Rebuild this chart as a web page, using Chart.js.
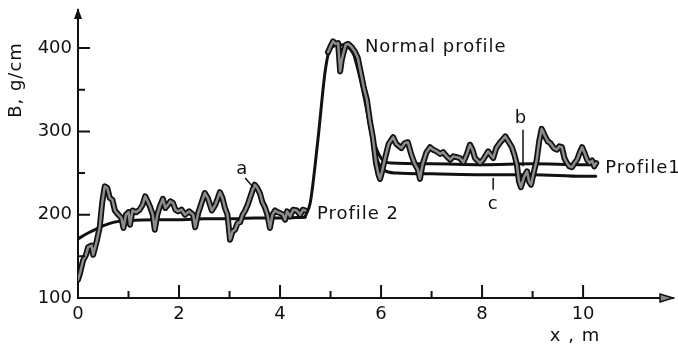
<!DOCTYPE html>
<html>
<head>
<meta charset="utf-8">
<script src="https://cdn.jsdelivr.net/npm/chart.js@4.4.1/dist/chart.umd.min.js"></script>
<style>
html, body { margin: 0; padding: 0; background: #fff; }
#wrap { width: 678px; height: 349px; }
</style>
</head>
<body>
<div id="wrap"><canvas id="chartProfile"></canvas></div>
<script>
// measured (noisy) profile, null = gap where the smooth line does the rise
var normalX = [0, 0.04, 0.1, 0.16, 0.2, 0.27, 0.3, 0.37, 0.43, 0.48, 0.53, 0.58, 0.63, 0.68, 0.73, 0.8, 0.86, 0.9, 0.95, 1.0,
  1.03, 1.08, 1.15, 1.22, 1.28, 1.33, 1.38, 1.43, 1.48, 1.52, 1.57, 1.62, 1.68, 1.73, 1.78, 1.83, 1.88, 1.93, 1.98, 2.05,
  2.12, 2.2, 2.28, 2.32, 2.38, 2.45, 2.51, 2.57, 2.65, 2.72, 2.81, 2.86, 2.91, 2.96, 3.01, 3.06, 3.11, 3.16, 3.21, 3.26,
  3.31, 3.36, 3.41, 3.46, 3.5, 3.55, 3.6, 3.65, 3.7, 3.75, 3.8, 3.85, 3.9, 3.95, 4.0, 4.06, 4.1, 4.14, 4.2, 4.26,
  4.33, 4.4, 4.45, 4.5, 4.7,
  4.95, 5.0, 5.05, 5.1, 5.15, 5.19, 5.22, 5.25, 5.3, 5.35, 5.42, 5.48, 5.54, 5.6, 5.66, 5.72, 5.78, 5.84, 5.9, 5.95,
  5.98, 6.02, 6.08, 6.15, 6.24, 6.3, 6.36, 6.4, 6.47, 6.53, 6.6, 6.66, 6.73, 6.77, 6.82, 6.9, 6.97, 7.03, 7.1, 7.17,
  7.23, 7.3, 7.37, 7.43, 7.5, 7.56, 7.63, 7.7, 7.76, 7.81, 7.86, 7.91, 7.96, 8.02, 8.08, 8.12, 8.17, 8.22, 8.28, 8.36,
  8.42, 8.46, 8.52, 8.59, 8.64, 8.69, 8.73, 8.77, 8.83, 8.89, 8.93, 8.97, 9.02, 9.08, 9.13, 9.18, 9.24, 9.3, 9.35, 9.42,
  9.48, 9.53, 9.58, 9.63, 9.68, 9.73, 9.78, 9.83, 9.88, 9.93, 9.98, 10.03, 10.08, 10.13, 10.18, 10.22, 10.26]
var normalB = [122, 130, 145, 152, 161, 163, 152, 168, 185, 215, 234, 232, 220, 218, 205, 200, 196, 184, 200, 203,
  188, 205, 203, 206, 212, 222, 216, 209, 200, 182, 200, 210, 219, 208, 212, 216, 214, 206, 204, 206,
  200, 204, 200, 185, 202, 215, 226, 220, 205, 212, 227, 220, 208, 200, 170, 180, 182, 190, 191, 200,
  205, 212, 221, 230, 236, 232, 226, 215, 209, 200, 184, 200, 205, 203, 202, 200, 194, 204, 198, 206,
  205, 200, 206, 205, null,
  395, 402, 408, 405, 406, 372, 385, 393, 404, 405, 401, 396, 388, 370, 352, 338, 312, 292, 262, 248,
  243, 252, 268, 285, 293, 285, 282, 280, 286, 287, 272, 262, 254, 243, 260, 275, 281, 278, 276, 273,
  275, 270, 266, 270, 269, 268, 263, 273, 284, 278, 268, 265, 262, 266, 272, 276, 272, 268, 280, 287,
  291, 294, 288, 281, 272, 260, 240, 233, 245, 252, 240, 236, 250, 265, 288, 303, 295, 288, 286, 280,
  278, 282, 281, 268, 262, 258, 257, 262, 266, 274, 281, 274, 266, 262, 265, 258, 262]

// Profile 2 (smooth, left part)
var profile2X = [0, 0.2, 0.4, 0.6, 0.8, 1.0, 1.5, 2.0, 2.5, 3.0, 3.5, 4.0, 4.5]
var profile2B = [171, 178, 184, 189, 192, 193, 194, 194, 195, 195, 196, 196, 197]

// Profile 1 / normal profile (smooth, rise + peak + right part)
var profile1X = [4.5, 4.6, 4.75, 4.9, 5.0, 5.2, 5.4, 5.55, 5.7, 5.85, 6.0, 6.2, 7.0, 8.0, 9.0, 10.0, 10.25]
var profile1B = [198, 215, 290, 375, 400, 404, 398, 380, 335, 290, 268, 262, 261, 260, 261, 260, 260]

// lower smooth line (c)
var lowerX = [5.45, 5.6, 5.75, 5.9, 6.05, 6.3, 7.0, 8.0, 9.0, 10.0, 10.25]
var lowerB = [395, 360, 315, 270, 254, 250, 249, 248, 248, 246, 246]

var xTicks = [0, 2, 4, 6, 8, 10]
var yTicks = [100, 200, 300, 400]
var xMinor = [1, 3, 5, 7, 9]
var yMinor = [150, 250, 350]

function pts(xs, ys) {
    return xs.map(function (x, i) { return { x: x, y: ys[i] } })
}

var txtFont = '18px "DejaVu Sans"'

var decorPlugin = {
    id: 'decor',
    afterDatasetsDraw: function (chart) {
        var ctx = chart.ctx
        var xs = chart.scales.x
        var ys = chart.scales.y
        var px = function (v) { return xs.getPixelForValue(v) }
        var py = function (v) { return ys.getPixelForValue(v) }
        var left = xs.left, bottom = ys.bottom
        ctx.save()
        ctx.strokeStyle = '#111'
        ctx.fillStyle = '#111'
        ctx.lineWidth = 2

        // inward ticks
        ctx.beginPath()
        yTicks.slice(1).forEach(function (v) { ctx.moveTo(left, py(v)); ctx.lineTo(left + 12, py(v)) })
        yMinor.forEach(function (v) { ctx.moveTo(left, py(v)); ctx.lineTo(left + 7, py(v)) })
        xTicks.slice(1).forEach(function (v) { ctx.moveTo(px(v), bottom); ctx.lineTo(px(v), bottom - 13) })
        xMinor.forEach(function (v) { ctx.moveTo(px(v), bottom); ctx.lineTo(px(v), bottom - 7) })
        ctx.stroke()

        // arrow heads
        ctx.beginPath()
        ctx.moveTo(left, ys.top - 2)
        ctx.lineTo(left - 4, ys.top + 9)
        ctx.lineTo(left + 4, ys.top + 9)
        ctx.closePath()
        ctx.fill()
        ctx.beginPath()
        ctx.moveTo(xs.right, bottom)
        ctx.lineTo(xs.right - 13, bottom - 4)
        ctx.lineTo(xs.right - 13, bottom + 4)
        ctx.closePath()
        ctx.fillStyle = '#888'
        ctx.fill()
        ctx.lineWidth = 1.5
        ctx.stroke()
        ctx.fillStyle = '#111'

        // marks a, b, c
        ctx.lineWidth = 1.5
        ctx.beginPath()
        ctx.moveTo(px(3.31), py(244)); ctx.lineTo(px(3.47), py(233))
        ctx.moveTo(px(8.81), py(302)); ctx.lineTo(px(8.81), py(258))
        ctx.moveTo(px(8.22), py(244)); ctx.lineTo(px(8.22), py(230))
        ctx.stroke()

        ctx.font = txtFont
        ctx.letterSpacing = '1px'
        ctx.textBaseline = 'middle'
        ctx.textAlign = 'left'
        ctx.fillText('Normal profile', px(5.68), py(401))
        ctx.fillText('Profile 2', px(4.73), py(200))
        ctx.fillText('Profile1', px(10.44), py(256))
        ctx.textAlign = 'center'
        ctx.fillText('a', px(3.25), py(254))
        ctx.fillText('b', px(8.77), py(316))
        ctx.fillText('c', px(8.22), py(212))
        ctx.fillText('x , m', 575, 336)

        ctx.translate(16, 80)
        ctx.rotate(-Math.PI / 2)
        ctx.fillText('B, g/cm', 0, 0)
        ctx.restore()
    }
}

var ctxProfile = document.getElementById('chartProfile')

var chartProfile = new Chart(ctxProfile, {
    type: 'line',
    data: {
        datasets: [{
            label: 'Normal profile (inner)',
            data: pts(normalX, normalB),
            borderColor: '#8c8c8c',
            borderWidth: 2.5,
            spanGaps: false,
            order: 0
        }, {
            label: 'Normal profile',
            data: pts(normalX, normalB),
            borderColor: '#111',
            borderWidth: 6,
            spanGaps: false,
            order: 1
        }, {
            label: 'Profile 2',
            data: pts(profile2X, profile2B),
            borderColor: '#111',
            borderWidth: 3,
            cubicInterpolationMode: 'monotone',
            order: 2
        }, {
            label: 'Profile 1',
            data: pts(profile1X, profile1B),
            borderColor: '#111',
            borderWidth: 3,
            cubicInterpolationMode: 'monotone',
            order: 2
        }, {
            label: 'c',
            data: pts(lowerX, lowerB),
            borderColor: '#111',
            borderWidth: 3,
            cubicInterpolationMode: 'monotone',
            order: 2
        }]
    },

    options: {
        responsive: true,
        maintainAspectRatio: false,
        animation: false,
        layout: {
            padding: { top: 10, right: 5, left: 0, bottom: 0 }
        },
        elements: {
            point: { radius: 0 },
            line: { borderJoinStyle: 'round', borderCapStyle: 'round' }
        },
        plugins: {
            legend: { display: false },
            tooltip: { enabled: false }
        },

        scales: {
            x: {
                type: 'linear',
                min: 0,
                max: 11.78,
                afterBuildTicks: function (scale) {
                    scale.ticks = xTicks.map(function (v) { return { value: v } })
                },
                afterFit: function (scale) {
                    scale.height = 51
                    scale.paddingLeft = 0
                    scale.paddingRight = 0
                },
                grid: { display: false, drawTicks: false },
                border: { color: '#111', width: 2 },
                ticks: {
                    color: '#111',
                    padding: 6,
                    maxRotation: 0,
                    font: { family: 'DejaVu Sans', size: 18 }
                }
            },

            y: {
                min: 100,
                max: 445.7,
                afterBuildTicks: function (scale) {
                    scale.ticks = yTicks.map(function (v) { return { value: v } })
                },
                afterFit: function (scale) {
                    scale.width = 78
                    scale.paddingTop = 0
                    scale.paddingBottom = 0
                },
                grid: { display: false, drawTicks: false },
                border: { color: '#111', width: 2 },
                ticks: {
                    color: '#111',
                    padding: 6,
                    font: { family: 'DejaVu Sans', size: 18 }
                }
            }
        }
    },
    plugins: [decorPlugin]
})
</script>
</body>
</html>
